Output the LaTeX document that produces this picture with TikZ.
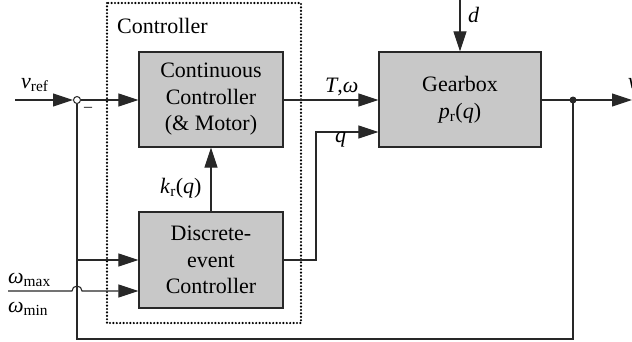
\documentclass[tikz,border=0pt]{standalone}
\usepackage{fontspec}
\setmainfont{Liberation Serif}
\usetikzlibrary{arrows.meta}
\definecolor{boxgray}{RGB}{200,200,200}
\definecolor{wire}{RGB}{40,40,40}

\begin{document}
\begin{tikzpicture}[x=1pt, y=-1pt, >={Triangle[length=20pt, width=13pt]},
    block/.style={draw=wire, fill=boxgray, line width=1.2pt, inner sep=0pt,
      align=center, font=\fontsize{22}{26.5}\selectfont},
    sig/.style={draw=wire, line width=1.1pt},
    lbl/.style={inner sep=0pt, font=\fontsize{22}{26}\selectfont}]

    \useasboundingbox (0,0) rectangle (632,341);

    % Controller frame
    \draw[black, line width=2.4pt, line cap=round, dash pattern=on 0pt off 3.4pt]
      (107,3) rectangle (301,323);
    \node[lbl, anchor=base west] (ctrl) at (117,33) {Controller};

    % Blocks
    \node[block, minimum width=144pt, minimum height=95pt] (cont) at (211,99.5)
      {Continuous\\Controller\\(\& Motor)};
    \node[block, minimum width=144pt, minimum height=96pt] (disc) at (211,260)
      {Discrete-\\event\\Controller};
    \node[block, minimum width=162pt, minimum height=95pt] (gear) at (460,99.5)
      {Gearbox\\\textit{p}\textsubscript{r}(\textit{q})};

    % Summing point and free ends
    \node[circle, draw=wire, fill=white, line width=1pt, minimum size=7pt,
      inner sep=0pt] (sum) at (77,100) {};
    \coordinate (vin) at (15,100);
    \coordinate (split) at (573,100);
    \coordinate (vout) at (632,100);
    \coordinate (dtop) at (460,0);
    \coordinate (qturn) at (316,132);
    \coordinate (fbcorner) at (573,339);
    \coordinate (tap) at (77,260);
    \coordinate (win) at (8,291);
    \coordinate (hop) at (72,291);

    % Signals
    \draw[sig, ->] (vin) -- (sum);
    \draw[sig, ->] (sum) -- (sum -| cont.west);
    \draw[sig, ->] (sum -| cont.east) -- (sum -| gear.west);
    \draw[sig, ->] (disc.east) -| (qturn) -- (qturn -| gear.west);
    \draw[sig, ->] (disc) -- (cont);
    \draw[sig, ->] (dtop) -- (gear);
    \draw[sig] (sum -| gear.east) -- (split);
    \draw[sig, ->] (split) -- (vout);
    \fill[wire] (split) circle (3.5pt);

    % Feedback
    \draw[sig] (split) -- (fbcorner) -| (sum);
    \draw[sig, ->] (tap) -- (tap -| disc.west);
    \draw[sig, ->] (win) -- (hop) arc[start angle=180, end angle=0, radius=5pt]
      -- (win -| disc.west);

    % Labels
    \node[lbl, anchor=base west] (vref) at (21,88) {\textit{v}\textsubscript{ref}};
    \node[lbl, font=\fontsize{16}{16}\selectfont] (minus) at (88,109) {–};
    \node[lbl, anchor=base west] (tw) at (325,92) {\textit{T},\textit{ω}};
    \node[lbl, anchor=base west] (qlbl) at (335,142) {\textit{q}};
    \node[lbl, anchor=base west] (krq) at (160,193)
      {\textit{k}\textsubscript{r}(\textit{q})};
    \node[lbl, anchor=base west] (dlbl) at (468,22) {\textit{d}};
    \node[lbl, anchor=base west] (wmax) at (8,283) {\textit{ω}\textsubscript{max}};
    \node[lbl, anchor=base west] (wmin) at (8,312) {\textit{ω}\textsubscript{min}};
    \node[lbl, anchor=base west] (vlbl) at (628,88) {\textit{v}};

\end{tikzpicture}
\end{document}
